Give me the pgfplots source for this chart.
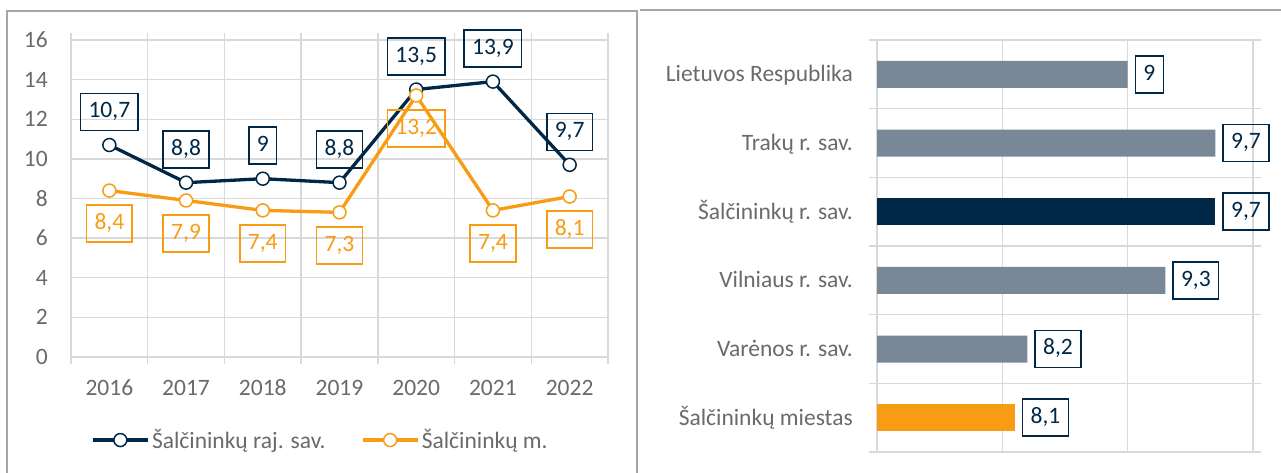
\documentclass[border=0pt]{standalone}
\usepackage{fontspec}
\setmainfont{Carlito}
\usepackage{pgfplots}
\pgfplotsset{compat=1.18}
\definecolor{navy}{HTML}{002846}
\definecolor{orng}{HTML}{F89C14}
\definecolor{barg}{HTML}{788896}
\definecolor{gridg}{HTML}{D9D9D9}
\definecolor{txtg}{HTML}{6A6A6A}
\definecolor{frameg}{HTML}{A6A6A6}
\tikzset{lbl/.style={anchor=center, fill=none, line width=1.5pt, text height=15.5pt, text depth=4pt, inner xsep=8pt, inner ysep=8.75pt}}
\begin{document}
\begin{tikzpicture}[font=\fontsize{23.5}{27}\selectfont]
\useasboundingbox (0pt,0pt) rectangle (1281pt,472pt);
\draw[frameg, line width=1.2pt] (7pt,-2pt) -- (7pt,461pt) -- (637pt,461pt) -- (637pt,-2pt);
\draw[frameg, line width=1.2pt] (640pt,462pt) -- (1283pt,462pt);
\begin{axis}[
  at={(71pt,115pt)}, anchor=south west, scale only axis, width=537pt, height=317pt,
  xmin=2015.5, xmax=2022.5, ymin=0, ymax=16,
  xtick={2016,...,2022}, xticklabels={2016,2017,2018,2019,2020,2021,2022},
  minor xtick={2015.5,2016.5,2017.5,2018.5,2019.5,2020.5,2021.5,2022.5}, ytick={0,2,...,16},
  ymajorgrids, xminorgrids, grid style={gridg, line width=1.3pt},
  major tick length=0pt, minor tick length=7pt, tick align=outside,
  minor tick style={gridg, line width=1.3pt},
  axis line style={draw=none},
  tick label style={txtg, inner sep=0pt},
  xticklabel style={anchor=base, yshift=-38pt},
  yticklabel style={anchor=base east, xshift=-23pt, yshift=-7.5pt},
  clip=false,
  legend style={at={(0.465,-0.262)}, anchor=center, draw=none, fill=none, text=txtg,
    legend columns=2, /tikz/every even column/.append style={column sep=34pt}},
  legend cell align=left,
  legend image code/.code={\draw[mark repeat=2,mark phase=2] plot coordinates {(0pt,0pt) (27pt,0pt) (55pt,0pt)};},
  /pgf/number format/.cd, use comma, fixed, precision=1, assume math mode=true, 1000 sep={}
]
\addplot[navy, line width=3.3pt, mark=*, mark size=6.5pt, mark options={fill=white, draw=navy, line width=1.5pt},
  nodes near coords, nodes near coords style={lbl, draw=navy, text=navy, yshift=33pt}]
  coordinates {(2016,10.7) (2017,8.8) (2018,9) (2019,8.8) (2020,13.5) (2021,13.9) (2022,9.7)};
\addplot[orng, line width=3.3pt, mark=*, mark size=6.5pt, mark options={fill=white, draw=orng, line width=1.5pt},
  nodes near coords, nodes near coords style={lbl, draw=orng, text=orng, yshift=-33pt}]
  coordinates {(2016,8.4) (2017,7.9) (2018,7.4) (2019,7.3) (2020,13.2) (2021,7.4) (2022,8.1)};
\legend{Šalčininkų raj. sav., Šalčininkų m.}
\end{axis}
\begin{axis}[
  at={(877pt,20pt)}, anchor=south west, scale only axis, width=376pt, height=412pt,
  xbar, bar width=27pt, bar shift=0pt,
  xmin=7, xmax=10, ymin=-0.5, ymax=5.5,
  xtick={7,8,9,10}, xticklabels={}, xmajorgrids,
  ytick={0,...,5},
  yticklabels={Šalčininkų miestas, Varėnos r. sav., Vilniaus r. sav., Šalčininkų r. sav., Trakų r. sav., Lietuvos Respublika},
  minor ytick={-0.5,0.5,1.5,2.5,3.5,4.5,5.5}, yminorgrids,
  grid style={gridg, line width=1.3pt},
  major tick length=0pt, minor tick length=8pt, tick align=outside,
  minor tick style={gridg, line width=1.3pt},
  axis line style={draw=none},
  tick label style={txtg, inner sep=0pt},
  yticklabel style={anchor=base east, xshift=-24pt, yshift=-7.5pt},
  clip mode=individual,
  /pgf/number format/.cd, use comma, fixed, precision=1, assume math mode=true, 1000 sep={}
]
\addplot[fill=barg, draw=none, point meta=x, nodes near coords, nodes near coords style={lbl, anchor=west, xshift=7pt, draw=navy, text=navy}]
  coordinates {(9,5) (9.7,4) (9.3,2) (8.2,1)};
\addplot[fill=navy, draw=none, point meta=x, nodes near coords, nodes near coords style={lbl, anchor=west, xshift=7pt, draw=navy, text=navy}]
  coordinates {(9.7,3)};
\addplot[fill=orng, draw=none, point meta=x, nodes near coords, nodes near coords style={lbl, anchor=west, xshift=7pt, draw=navy, text=navy}]
  coordinates {(8.1,0)};
\end{axis}
\end{tikzpicture}
\end{document}
